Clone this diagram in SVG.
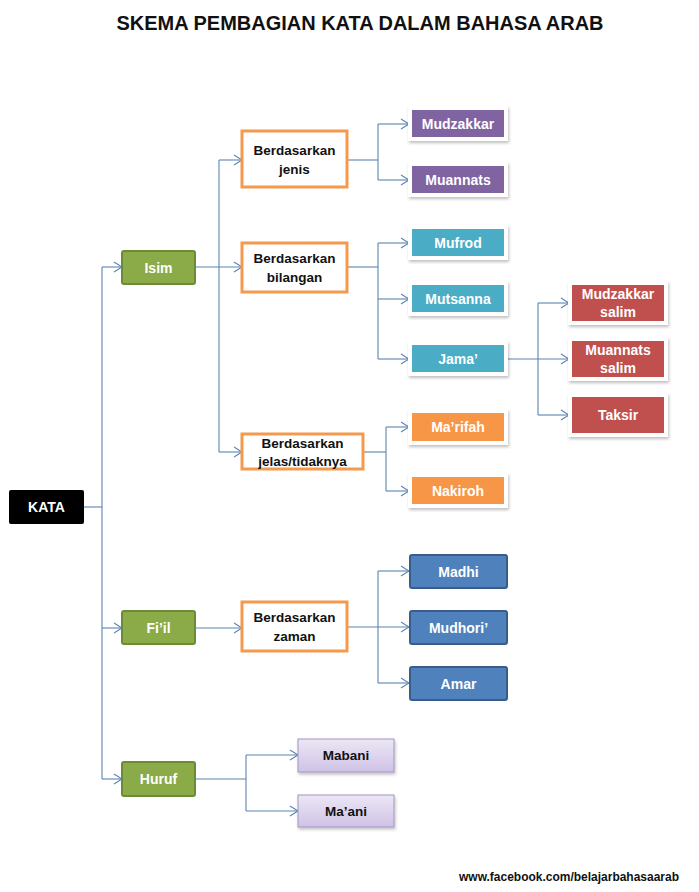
<svg xmlns="http://www.w3.org/2000/svg" width="699" height="892" viewBox="0 0 699 892">
<style>
text{font-family:"Liberation Sans",Arial,sans-serif;font-weight:bold;text-anchor:middle;dominant-baseline:central}
.w{fill:#ffffff;font-size:14px}
.k{fill:#111111;font-size:13.5px}
.c{fill:none;stroke:#5b84b1;stroke-width:1.1}
.frame{fill:#ffffff;filter:url(#sh)}
.green{fill:#8aab47;stroke:#6d8b36;stroke-width:2}
.ob{fill:#ffffff;stroke:#f59a4c;stroke-width:3}
.pur{fill:#8064a2}
.teal{fill:#4bacc6}
.red{fill:#c0504d}
.or{fill:#f79646}
.blue{fill:#4f81bd;stroke:#385d8a;stroke-width:2}
.lav{fill:url(#lg);stroke:#a393c0;stroke-width:1}
</style>
<defs>
<marker id="ah" markerWidth="10" markerHeight="12" refX="9" refY="6" orient="auto" markerUnits="userSpaceOnUse">
<path d="M1,1 L9,6 L1,11" fill="none" stroke="#5b84b1" stroke-width="1.1"/>
</marker>
<filter id="sh" x="-10%" y="-20%" width="125%" height="150%">
<feDropShadow dx="1" dy="2" stdDeviation="1.5" flood-color="#000" flood-opacity="0.25"/>
</filter>
<linearGradient id="lg" x1="0" y1="0" x2="0" y2="1">
<stop offset="0" stop-color="#ece7f5"/>
<stop offset="1" stop-color="#cfc2e6"/>
</linearGradient>
</defs>
<rect width="699" height="892" fill="#ffffff"/>
<text x="360" y="23" style="font-size:20px;fill:#111" textLength="487" lengthAdjust="spacingAndGlyphs">SKEMA PEMBAGIAN KATA DALAM BAHASA ARAB</text>

<g id="connectors">
<path class="c" d="M84,507 H102"/>
<path class="c" d="M102,267 V779"/>
<path class="c" d="M102,267 H122" marker-end="url(#ah)"/>
<path class="c" d="M102,628 H122" marker-end="url(#ah)"/>
<path class="c" d="M102,779 H122" marker-end="url(#ah)"/>
<path class="c" d="M195,267 H242" marker-end="url(#ah)"/>
<path class="c" d="M219,160 V452"/>
<path class="c" d="M219,160 H242" marker-end="url(#ah)"/>
<path class="c" d="M219,452 H242" marker-end="url(#ah)"/>
<path class="c" d="M347,160 H378"/>
<path class="c" d="M378,124 V180"/>
<path class="c" d="M378,124 H409" marker-end="url(#ah)"/>
<path class="c" d="M378,180 H409" marker-end="url(#ah)"/>
<path class="c" d="M347,267 H378"/>
<path class="c" d="M378,243 V359"/>
<path class="c" d="M378,243 H409" marker-end="url(#ah)"/>
<path class="c" d="M378,299 H409" marker-end="url(#ah)"/>
<path class="c" d="M378,359 H409" marker-end="url(#ah)"/>
<path class="c" d="M507,359 H569" marker-end="url(#ah)"/>
<path class="c" d="M538,303 V415"/>
<path class="c" d="M538,303 H569" marker-end="url(#ah)"/>
<path class="c" d="M538,415 H569" marker-end="url(#ah)"/>
<path class="c" d="M363,452 H386"/>
<path class="c" d="M386,427 V491"/>
<path class="c" d="M386,427 H409" marker-end="url(#ah)"/>
<path class="c" d="M386,491 H409" marker-end="url(#ah)"/>
<path class="c" d="M195,628 H242" marker-end="url(#ah)"/>
<path class="c" d="M347,627 H409" marker-end="url(#ah)"/>
<path class="c" d="M378,571 V683"/>
<path class="c" d="M378,571 H409" marker-end="url(#ah)"/>
<path class="c" d="M378,683 H409" marker-end="url(#ah)"/>
<path class="c" d="M195,779 H246"/>
<path class="c" d="M246,755 V811"/>
<path class="c" d="M246,755 H298" marker-end="url(#ah)"/>
<path class="c" d="M246,811 H298" marker-end="url(#ah)"/>
</g>

<g id="kata"><rect x="9" y="490" width="75" height="34" rx="2" fill="#000"/><text class="w" x="46.5" y="507">KATA</text></g>

<g id="isim"><rect class="green" x="122" y="251" width="73" height="33" rx="2"/><text class="w" x="158.5" y="267.5">Isim</text></g>
<g id="fiil"><rect class="green" x="122" y="611" width="73" height="33" rx="2"/><text class="w" x="158.5" y="627.5">Fi’il</text></g>
<g id="huruf"><rect class="green" x="122" y="762" width="73" height="34" rx="2"/><text class="w" x="158.5" y="779">Huruf</text></g>

<g id="b-jenis"><rect class="ob" x="242" y="131" width="105" height="56"/><text class="k" x="294.5" y="150">Berdasarkan</text><text class="k" x="294.5" y="169">jenis</text></g>
<g id="b-bilangan"><rect class="ob" x="242" y="243" width="105" height="49"/><text class="k" x="294.5" y="258.5">Berdasarkan</text><text class="k" x="294.5" y="277">bilangan</text></g>
<g id="b-jelas"><rect class="ob" x="242" y="434" width="121" height="35"/><text class="k" x="302.5" y="443">Berdasarkan</text><text class="k" x="302.5" y="461">jelas/tidaknya</text></g>
<g id="b-zaman"><rect class="ob" x="242" y="602" width="105" height="49"/><text class="k" x="294.5" y="617.5">Berdasarkan</text><text class="k" x="294.5" y="636">zaman</text></g>

<g id="mudzakkar"><rect class="frame" x="408" y="106" width="100" height="35"/><rect class="pur" x="412" y="110" width="92" height="27"/><text class="w" x="458" y="123.5">Mudzakkar</text></g>
<g id="muannats"><rect class="frame" x="408" y="162" width="100" height="35"/><rect class="pur" x="412" y="166" width="92" height="27"/><text class="w" x="458" y="179.5">Muannats</text></g>

<g id="mufrod"><rect class="frame" x="408" y="225" width="100" height="35"/><rect class="teal" x="412" y="229" width="92" height="27"/><text class="w" x="458" y="242.5">Mufrod</text></g>
<g id="mutsanna"><rect class="frame" x="408" y="281" width="100" height="35"/><rect class="teal" x="412" y="285" width="92" height="27"/><text class="w" x="458" y="298.5">Mutsanna</text></g>
<g id="jama"><rect class="frame" x="408" y="341" width="100" height="35"/><rect class="teal" x="412" y="345" width="92" height="27"/><text class="w" x="458" y="358.5">Jama’</text></g>

<g id="mudzakkar-salim"><rect class="frame" x="568" y="281" width="100" height="44"/><rect class="red" x="572" y="285" width="92" height="36"/><text class="w" x="618" y="294">Mudzakkar</text><text class="w" x="618" y="312">salim</text></g>
<g id="muannats-salim"><rect class="frame" x="568" y="337" width="100" height="44"/><rect class="red" x="572" y="341" width="92" height="36"/><text class="w" x="618" y="350">Muannats</text><text class="w" x="618" y="368">salim</text></g>
<g id="taksir"><rect class="frame" x="568" y="393" width="100" height="44"/><rect class="red" x="572" y="397" width="92" height="36"/><text class="w" x="618" y="414.5">Taksir</text></g>

<g id="marifah"><rect class="frame" x="408" y="409" width="100" height="36"/><rect class="or" x="412" y="413" width="92" height="28"/><text class="w" x="458" y="427">Ma’rifah</text></g>
<g id="nakiroh"><rect class="frame" x="408" y="473" width="100" height="35"/><rect class="or" x="412" y="477" width="92" height="27"/><text class="w" x="458" y="490.5">Nakiroh</text></g>

<g id="madhi"><rect class="blue" x="410" y="555" width="97" height="33" rx="2"/><text class="w" x="458.5" y="571.5">Madhi</text></g>
<g id="mudhori"><rect class="blue" x="410" y="611" width="97" height="33" rx="2"/><text class="w" x="458.5" y="627.5">Mudhori’</text></g>
<g id="amar"><rect class="blue" x="410" y="667" width="97" height="33" rx="2"/><text class="w" x="458.5" y="683.5">Amar</text></g>

<g id="mabani"><rect class="lav" x="298" y="739" width="96" height="33" filter="url(#sh)"/><text class="k" x="346" y="755.5">Mabani</text></g>
<g id="maani"><rect class="lav" x="298" y="795" width="96" height="32" filter="url(#sh)"/><text class="k" x="346" y="811">Ma’ani</text></g>

<text x="569" y="877" style="font-size:12px;fill:#111" textLength="220" lengthAdjust="spacingAndGlyphs">www.facebook.com/belajarbahasaarab</text>
</svg>
